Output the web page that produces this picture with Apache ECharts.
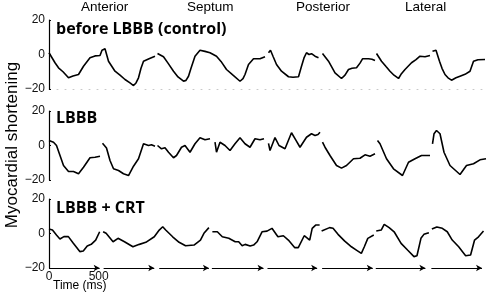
<!DOCTYPE html>
<html>
<head>
<meta charset="utf-8">
<script src="https://cdn.jsdelivr.net/npm/echarts@6/dist/echarts.min.js"></script>
<style>
  html, body { margin: 0; padding: 0; background: #fff; }
  #main { width: 488px; height: 295px; }
</style>
</head>
<body>
<div id="main"></div>
<script>
var regions = ['Anterior', 'Septum', 'Posterior', 'Lateral'];
var panelTitles = ['before LBBB (control)', 'LBBB', 'LBBB + CRT'];
var yTicks = [-20, 0, 20];
var timeTicks = [0, 500];

// traces per panel: [time (ms), shortening]
var controlTraces = [
  [[0,1.0],[60,-4.8],[95,-7.7],[140,-10],[195,-13.5],[240,-12.5],[295,-11.6],[345,-6.8],[410,-1.9],[460,-0.8],[510,-0.6],[530,2.5],[560,3.3],[595,-3.9],[660,-9.7],[710,-12],[760,-14.5],[810,-16.5],[845,-18],[870,-16.5],[895,-13.5],[920,-8],[945,-3.9],[1000,-2.5],[1060,-1]],
  [[1085,0.6],[1145,-1.3],[1190,-5],[1245,-9.7],[1290,-13],[1345,-15.5],[1370,-15],[1395,-12.6],[1420,-8],[1460,-1],[1510,2.5],[1560,1.8],[1610,1],[1675,-1],[1720,-4],[1775,-8.7],[1840,-12],[1910,-15.5],[1940,-14],[1960,-11.6],[1995,-5.8],[2045,-2.5],[2110,-2.5],[2160,-1.3]],
  [[2195,1],[2215,2.5],[2240,-1],[2275,-5.8],[2325,-9.7],[2395,-12.9],[2440,-13.2],[2495,-12.9],[2525,-6.8],[2550,-2],[2575,1],[2600,0],[2625,0.5],[2660,-1],[2695,-1.9]],
  [[2735,0.6],[2795,-3.9],[2860,-10.6],[2925,-13.9],[2960,-12],[2995,-8.7],[3030,-8],[3075,-7.7],[3110,-5],[3135,-2.5],[3195,-2.5],[3230,-2.8],[3260,-3.5]],
  [[3275,0.6],[3325,-3.9],[3370,-7],[3410,-9.7],[3450,-12],[3495,-13.9],[3520,-11.5],[3560,-8.7],[3625,-4.8],[3670,-3],[3710,-1],[3760,-1.3],[3810,-0.6]],
  [[3835,1.9],[3870,2.5],[3905,-3.9],[3930,-8],[3960,-11.6],[3990,-13.5],[4025,-14.9],[4070,-13.5],[4110,-12.6],[4160,-11.5],[4210,-9.7],[4245,-3.9],[4290,-3],[4360,-2.9]]
];

var lbbbTraces = [
  [[0,2.9],[45,1.9],[75,0],[110,-5.8],[145,-11.6],[195,-15.1],[245,-15.1],[295,-16.4],[345,-12.6],[410,-7.1],[460,-6.8],[510,-6.2]],
  [[535,1.3],[575,-1.5],[610,-8.7],[645,-13.5],[695,-14.5],[745,-16.4],[795,-17.4],[845,-12],[895,-7.7],[945,1],[995,0],[1025,0.4],[1060,-0.4]],
  [[1085,0],[1125,-1.9],[1160,-1.3],[1195,-3.9],[1245,-7.1],[1275,-5.8],[1325,-1],[1360,0],[1410,-3.9],[1460,1],[1510,4.5],[1560,3.3],[1610,3.9]],
  [[1660,1.9],[1675,-3.9],[1710,1.9],[1760,0],[1810,-2.9],[1860,1],[1910,4.5],[1960,1],[2010,-1],[2060,3.9],[2110,3.3],[2150,3.9]],
  [[2195,1.2],[2210,-2.9],[2260,4.6],[2300,0],[2360,-1.9],[2425,7.4],[2470,3],[2510,-1],[2575,4.8],[2625,6.8],[2660,5.8],[2690,6.4],[2710,7.7]],
  [[2735,1.9],[2760,-1],[2810,-5.8],[2875,-11.6],[2925,-13.1],[2975,-11.6],[3045,-7.7],[3110,-7.4],[3160,-5.4],[3210,-6.2],[3260,-4.8]],
  [[3285,2.9],[3310,1],[3375,-7.7],[3445,-13.5],[3535,-17.4],[3595,-9.7],[3660,-7.7],[3725,-5.8],[3810,-5.8]],
  [[3835,1],[3850,6.8],[3875,8.7],[3910,6.8],[3950,-3.9],[4010,-11.6],[4110,-16.8],[4175,-11.6],[4245,-10.6],[4310,-8.3],[4370,-7.7]]
];

var crtTraces = [
  [[0,2.6],[35,2],[75,-0.9],[110,-3.2],[150,-1.8],[195,-1.8],[245,-5.7],[310,-10.5],[345,-10.1],[385,-7.2],[425,-6.3],[470,-3.8],[510,1]],
  [[545,1],[575,0.1],[645,-4.8],[695,-2.8],[760,-4.8],[845,-7.7],[910,-6.3],[975,-5.1],[1060,-1.9],[1110,2],[1145,3.9],[1175,2],[1245,-1.9],[1310,-5.1],[1375,-7.1],[1460,-6.7],[1525,-3.8],[1560,0.1],[1610,3.4]],
  [[1645,1],[1695,1],[1745,-1.9],[1810,-2.8],[1875,-4.8],[1910,-4.8],[1945,-7.1],[1975,-6.3],[2025,-7.2],[2060,-6.7],[2095,-4.8],[2145,1],[2195,1.4],[2245,3],[2305,-1.9],[2360,-1.3],[2410,-3.8],[2475,-8.2],[2510,-8.2],[2570,-1.3],[2625,-3.8],[2650,3],[2685,4.9],[2725,4.9]],
  [[2745,1.4],[2825,3.4],[2860,3],[2910,-0.5],[2975,-4.3],[3045,-7.7],[3095,-9.6],[3145,-11.5],[3175,-7.7],[3210,-2.8],[3270,-0.9]],
  [[3295,1.4],[3345,2],[3375,5.3],[3425,3.4],[3475,1],[3545,-5.7],[3610,-9.6],[3675,-13.4],[3705,-12.9],[3745,-2.8],[3775,-0.5],[3825,0.5]],
  [[3855,2.6],[3905,3.8],[3960,3],[4010,1],[4060,-3.8],[4125,-7.7],[4195,-12.9],[4245,-12.5],[4285,-3.8],[4325,-1.9],[4375,1.4]]
];

// time arrows under the last panel (one per beat)
var beatStarts = [0, 550, 1110, 1640, 2200, 2750, 3290, 3850];
var beatEnds = [510, 1060, 1610, 2160, 2700, 3260, 3790, 4360];

var allTraces = [controlTraces, lbbbTraces, crtTraces];
var gridTops = [20, 111, 199];
var font = 'Arial, "Liberation Sans", sans-serif';

var chart = echarts.init(document.getElementById('main'));

var grids = [], xAxes = [], yAxes = [], series = [];
gridTops.forEach(function (top, i) {
  grids.push({ left: 49, top: top, width: 439, height: 69 });
  xAxes.push({
    gridIndex: i,
    type: 'value',
    min: 0,
    max: 4390,
    interval: 500,
    show: i !== 1,
    axisLine: {
      show: i === 0,
      onZero: false,
      lineStyle: { color: '#c8c8c8', type: [1, 7], width: 1 }
    },
    axisTick: { show: false },
    splitLine: { show: false },
    axisLabel: {
      show: i === 2,
      margin: 3,
      fontSize: 12,
      fontFamily: font,
      color: '#111',
      formatter: function (v) { return timeTicks.indexOf(v) >= 0 ? String(v) : ''; }
    }
  });
  yAxes.push({
    gridIndex: i,
    type: 'value',
    min: yTicks[0],
    max: yTicks[yTicks.length - 1],
    interval: 20,
    axisLine: { show: true, lineStyle: { color: '#000', width: 1.2 } },
    axisTick: { show: true, inside: true, length: 2, lineStyle: { color: '#000' } },
    splitLine: { show: false },
    axisLabel: {
      margin: 4,
      fontSize: 12,
      fontFamily: font,
      color: '#111',
      formatter: function (v) { return v < 0 ? '\u2212' + Math.abs(v) : String(v); }
    }
  });
  allTraces[i].forEach(function (trace, k) {
    var s = {
      type: 'line',
      xAxisIndex: i,
      yAxisIndex: i,
      data: trace,
      showSymbol: false,
      silent: true,
      animation: false,
      lineStyle: { color: '#000', width: 1.6 }
    };
    if (i === 2 && k === 0) {
      s.markLine = {
        silent: true,
        animation: false,
        symbol: ['none', 'arrow'],
        symbolSize: [5, 6],
        label: { show: false },
        lineStyle: { color: '#000', width: 1, type: 'solid' },
        data: beatStarts.map(function (st, j) {
          return [{ coord: [st, -20] }, { coord: [beatEnds[j], -20] }];
        })
      };
    }
    series.push(s);
  });
});

var regionCenters = [107, 213, 322, 431];
var titleTops = [21, 110, 200];
var graphics = [];
regions.forEach(function (r, i) {
  graphics.push({
    type: 'text', left: regionCenters[i] - 26, top: 0,
    style: { text: r, font: '13.5px ' + font, fill: '#000', width: 52, align: 'center' }
  });
});
panelTitles.forEach(function (t, i) {
  graphics.push({
    type: 'text', left: 56, top: titleTops[i],
    style: { text: t, font: 'bold 16px "Open Sans", sans-serif', fill: '#000' }
  });
});
graphics.push({
  type: 'text', x: 12, y: 145, rotation: Math.PI / 2,
  style: { text: 'Myocardial shortening', font: '17px ' + font, fill: '#000', align: 'center', verticalAlign: 'middle' }
});
graphics.push({
  type: 'text', left: 53, top: 280,
  style: { text: 'Time (ms)', font: '12px ' + font, fill: '#000' }
});

chart.setOption({
  backgroundColor: '#fff',
  animation: false,
  grid: grids,
  xAxis: xAxes,
  yAxis: yAxes,
  series: series,
  graphic: graphics
});
</script>
</body>
</html>
